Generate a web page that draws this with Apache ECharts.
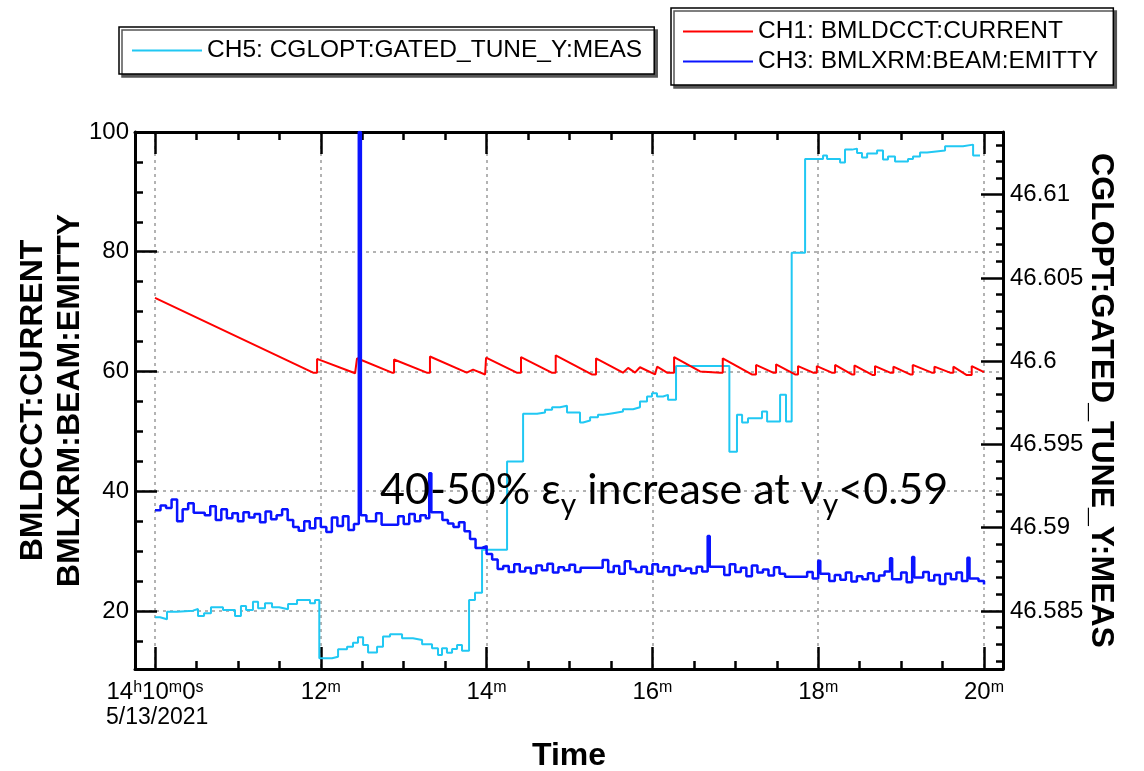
<!DOCTYPE html>
<html><head><meta charset="utf-8">
<script src="https://cdn.jsdelivr.net/npm/echarts@6/dist/echarts.min.js"></script>
<style>html,body{margin:0;padding:0;background:#fff}#c{width:1144px;height:771px}</style>
</head><body><div id="c"></div>
<script>
// ---- data (time in seconds after 14:10:00, 5/13/2021) ----
const seriesNames = ['CH5: CGLOPT:GATED_TUNE_Y:MEAS', 'CH1: BMLDCCT:CURRENT', 'CH3: BMLXRM:BEAM:EMITTY'];
const xTickHourLabel = ['14', 'h', '10', 'm', '0', 's'];
const dateLabel = '5/13/2021';

// CH1 current (left axis)
const redT = [0,114.4,117.3,117.3,144.8,146.2,146.2,171.5,173,173,196.7,199,199,225.6,230.2,238.9,239.6,239.6,261.8,264.9,264.9,287.1,290,290,316.1,319.2,319.2,338.7,342.4,347.4,351,361.9,363.4,370.6,375.7,375.7,394.5,409,410.9,410.9,431.9,435,435,447.3,449.5,449.5,463.2,465.4,465.4,476.3,479,479,489.8,492.2,492.2,504.3,506.2,506.2,519.5,521.1,521.1,532,534.4,534.4,546.5,548.4,548.4,562.2,564.1,564.1,575.4,577.8,577.8,587.5,591.1,591.1,600];
const redV = [72.3,59.8,59.8,62.1,59.7,59.7,62.2,59.8,59.8,62.0,59.8,59.8,62.5,59.8,60.3,59.5,59.5,62.3,59.8,59.8,62.4,59.8,59.8,62.7,59.5,59.5,62.2,59.8,60.6,59.8,60.7,59.5,60.8,59.8,59.8,62.4,60.0,59.8,59.8,62.2,59.5,59.5,61.1,59.8,59.8,61.2,59.5,59.5,60.9,59.8,59.8,60.9,59.8,59.8,61.1,59.5,59.5,61.0,59.4,59.4,60.9,59.8,59.8,60.8,59.5,59.5,61.1,59.8,59.8,60.8,59.8,59.8,60.8,59.4,59.4,60.9,59.9];

// CH3 emittance (left axis)
const blueT = [
 0,4,8,12,16,20,24,28,32,36,
 40,44,48,52,56,60,64,68,72,76,
 80,84,88,92,96,100,104,108,112,116,
 120,124,128,132,136,140,144,147.5,149,153,
 160,164,168,172,176,180,184,188,192,196,
 198.5,200,208,212,216,220,224,228,232,236,
 240,244,248,252,256,260,264,268,272,276,
 280,284,288,292,296,300,304,308,312,316,
 320,324,328,332,336,340,344,348,352,356,
 360,364,368,372,376,380,384,388,392,396,
 400,401.5,408,412,416,420,424,428,432,436,
 440,444,448,452,456,460,464,468,472,476,
 480,481.5,488,492,496,500,504,508,512,516,
 520,524,528,532,533.5,540,544,548,549.5,556,
 560,564,568,572,576,580,584,588,589.5,596,
 600];
const blueV = [
 36.8,37.6,37.2,38.6,35.0,37.0,38.0,36.4,36.4,36.0,
 37.5,35.2,37.0,35.5,36.3,35.0,36.5,35.6,36.2,34.8,
 36.6,35.3,36.0,37.0,35.2,34.0,33.4,35.0,33.8,35.5,
 34.0,33.2,35.6,34.2,35.8,33.5,34.5,100,36.0,35.0,
 36.3,34.4,34.4,34.4,35.8,34.5,36.2,35.0,36.0,35.5,
 43.0,36.5,35.2,34.6,34.0,34.8,33.3,32.0,30.5,30.8,
 29.5,28.6,27.0,27.5,26.5,27.8,26.6,27.2,26.3,27.6,
 26.8,27.9,26.4,27.3,26.8,27.7,26.5,27.2,27.2,27.2,
 27.2,28.5,26.5,27.5,26.2,28.3,27.0,26.5,27.4,26.2,
 27.8,26.6,27.3,26.0,27.5,26.7,27.1,26.3,27.4,26.6,
 32.5,27.4,27.4,26.0,27.8,26.5,27.2,25.8,27.6,26.4,
 26.9,25.9,27.3,26.2,25.7,25.7,25.7,25.7,26.5,25.4,
 28.4,26.2,25.0,26.0,25.2,26.4,24.9,25.8,25.3,26.3,
 25.0,25.9,26.6,28.8,25.3,26.4,24.8,29.0,25.6,26.5,
 25.1,26.0,24.5,26.2,25.3,26.4,25.0,28.9,25.4,25.0,
 24.4];

// CH5 gated tune (right axis), step values
const cyanT = [0,3.6,8.7,15.9,27.5,31.1,35.5,40.5,49.2,57.9,62.2,65.9,70.9,74.6,79.6,84.7,89.8,96.3,102.8,112.2,115.8,118.9,128.1,132.5,139.0,143.3,146.9,150.6,154.2,160.7,165.0,170.1,178.8,186.7,193.3,200.5,204.8,207.7,211.3,215.0,218.6,222.2,227.3,231.6,236.7,254.8,266.4,276.5,282.3,287.4,293.1,298.2,307.6,309.8,314.9,320.6,324.3,331.5,338.7,346.0,351.0,356.1,359.7,363.3,367.7,371.3,377.1,415.7,421.2,424.9,429.2,439.3,443.0,452.4,456.7,460.8,470.5,483.5,486.4,495.8,499.4,504.5,508.1,511.7,515.4,522.6,526.9,530.5,535.6,545.0,548.6,553.7,558.8,571.8,584.8,592.1,597.1];
const cyanV = [46.58462,46.58450,46.58496,46.58502,46.58512,46.58470,46.58486,46.58522,46.58506,46.58470,46.58530,46.58506,46.58556,46.58516,46.58546,46.58522,46.58510,46.58542,46.58566,46.58546,46.58566,46.58216,46.58225,46.58270,46.58285,46.58309,46.58342,46.58296,46.58250,46.58285,46.58346,46.58360,46.58336,46.58326,46.58300,46.58276,46.58236,46.58276,46.58249,46.58272,46.58296,46.58261,46.58566,46.58610,46.58867,46.59397,46.59684,46.59692,46.59708,46.59724,46.59732,46.59692,46.59632,46.59644,46.59664,46.59678,46.59688,46.59698,46.59712,46.59724,46.59758,46.59788,46.59808,46.59788,46.59798,46.59768,46.59972,46.59457,46.59678,46.59632,46.59658,46.59698,46.59638,46.59798,46.59638,46.60652,46.61215,46.61235,46.61215,46.61194,46.61271,46.61277,46.61251,46.61224,46.61247,46.61266,46.61211,46.61230,46.61200,46.61215,46.61230,46.61254,46.61265,46.61291,46.61301,46.61235,46.61235];

// axis ranges (x in minutes after 14:10:00)
const xRange = [-0.2413, 10.229];
const leftRange = [10.3, 100];
const rightRange = [46.581514, 46.613768];

// ---- chart ----
const SANS = "'Liberation Sans',Arial,sans-serif";
const CYAN = '#21c8f3', RED = '#ff0000', BLUE = '#0a14ff';
const toXY = (ts, vs) => ts.map((t, i) => [t / 60, vs[i]]);

const frameLine = {show: true, onZero: false, lineStyle: {color: '#000', width: 3}};
const tick = {show: true, inside: true, length: 22, lineStyle: {color: '#000', width: 2.5}};
const gridLine = {show: true, showMinLine: false, showMaxLine: false, lineStyle: {color: '#9a9a9a', width: 1.5, type: [3, 4]}};
const labelFont = {fontFamily: SANS, fontSize: 24, color: '#000'};

const chart = echarts.init(document.getElementById('c'));
chart.setOption({
  animation: false,
  backgroundColor: '#fff',
  grid: {left: 135, top: 132, width: 868, height: 537, outerBoundsMode: 'none', containLabel: false},
  legend: [
    {data: [seriesNames[0]], left: 119, top: 27, icon: 'rect', itemWidth: 70, itemHeight: 2,
     padding: [11, 12, 11, 13], backgroundColor: '#fff', borderColor: '#000', borderWidth: 1.5,
     shadowColor: '#555', shadowOffsetX: 3, shadowOffsetY: 3, shadowBlur: 0,
     textStyle: {fontFamily: SANS, fontSize: 24.5, color: '#000', lineHeight: 24}},
    {data: [seriesNames[1], seriesNames[2]], orient: 'vertical', left: 671, top: 8, icon: 'rect',
     itemWidth: 70, itemHeight: 2, itemGap: 5,
     padding: [11, 15, 11, 12], backgroundColor: '#fff', borderColor: '#000', borderWidth: 1.5,
     shadowColor: '#555', shadowOffsetX: 3, shadowOffsetY: 3, shadowBlur: 0,
     textStyle: {fontFamily: SANS, fontSize: 24.5, color: '#000', lineHeight: 23}}
  ],
  xAxis: [
    {type: 'value', position: 'bottom', min: xRange[0], max: xRange[1], splitNumber: 5,
     axisLine: frameLine, axisTick: tick,
     minorTick: {show: true, splitNumber: 4, length: 8, lineStyle: {color: '#000', width: 2.5}},
     splitLine: gridLine,
     axisLabel: Object.assign({}, labelFont, {
       margin: 11, showMinLabel: false, showMaxLabel: false, lineHeight: 24,
       formatter: v => {
         const m = Math.round(v);
         if (Math.abs(v - m) > 1e-6) return '';
         if (m === 0) return xTickHourLabel[0] + '{s|' + xTickHourLabel[1] + '}' + xTickHourLabel[2] + '{s|' + xTickHourLabel[3] + '}' + xTickHourLabel[4] + '{s|' + xTickHourLabel[5] + '}';
         return (10 + m) + '{s|m}';
       },
       rich: {s: {fontFamily: SANS, fontSize: 16, lineHeight: 16, verticalAlign: 'top', color: '#000'}}
     }),
     name: 'Time', nameLocation: 'middle', nameGap: 71, nameMoveOverlap: false,
     nameTextStyle: {fontFamily: SANS, fontWeight: 'bold', fontSize: 32, color: '#000'}},
    {type: 'value', position: 'top', min: xRange[0], max: xRange[1], splitNumber: 5,
     axisLine: frameLine, axisTick: tick,
     minorTick: {show: true, splitNumber: 4, length: 8, lineStyle: {color: '#000', width: 2.5}},
     splitLine: {show: false}, axisLabel: {show: false}}
  ],
  yAxis: [
    {type: 'value', position: 'left', min: leftRange[0], max: leftRange[1], splitNumber: 4,
     axisLine: frameLine, axisTick: tick,
     minorTick: {show: true, splitNumber: 4, length: 8, lineStyle: {color: '#000', width: 2.5}},
     splitLine: gridLine,
     axisLabel: Object.assign({}, labelFont, {margin: 6, showMinLabel: false}),
     name: 'BMLDCCT:CURRENT\nBMLXRM:BEAM:EMITTY', nameLocation: 'middle', nameRotate: 90, nameGap: 46, nameMoveOverlap: false,
     nameTextStyle: {fontFamily: SANS, fontWeight: 'bold', fontSize: 32, lineHeight: 37, color: '#000'}},
    {type: 'value', position: 'right', min: rightRange[0], max: rightRange[1], splitNumber: 6,
     axisLine: frameLine, axisTick: tick,
     minorTick: {show: true, splitNumber: 5, length: 7, lineStyle: {color: '#000', width: 2.5}},
     splitLine: {show: false},
     axisLabel: Object.assign({}, labelFont, {margin: 7, showMinLabel: false, showMaxLabel: false,
       formatter: v => String(+v.toFixed(3))}),
     name: 'CGLOPT:GATED_TUNE_Y:MEAS', nameLocation: 'middle', nameRotate: -90, nameGap: 82, nameMoveOverlap: false,
     nameTextStyle: {fontFamily: SANS, fontWeight: 'bold', fontSize: 32, color: '#000'}}
  ],
  series: [
    {name: seriesNames[0], type: 'line', xAxisIndex: 0, yAxisIndex: 1, step: 'end', showSymbol: false,
     data: toXY(cyanT, cyanV), lineStyle: {color: CYAN, width: 2}, itemStyle: {color: CYAN}, z: 2},
    {name: seriesNames[1], type: 'line', xAxisIndex: 0, yAxisIndex: 0, showSymbol: false,
     data: toXY(redT, redV), lineStyle: {color: RED, width: 2}, itemStyle: {color: RED}, z: 3},
    {name: seriesNames[2], type: 'line', xAxisIndex: 0, yAxisIndex: 0, step: 'end', showSymbol: false,
     data: toXY(blueT, blueV), lineStyle: {color: BLUE, width: 2.5}, itemStyle: {color: BLUE}, z: 4}
  ],
  graphic: [
    {type: 'text', left: 106, top: 706, z: 10,
     style: {text: dateLabel, fontFamily: SANS, fontSize: 23, fill: '#000'}},
    {type: 'text', left: 380, top: 460, z: 10,
     style: {text: '40-50% ε{sub|y} increase at ν{sub|y}<0.59', fontFamily: 'Lato', fontSize: 43, lineHeight: 60, fill: '#000',
       rich: {sub: {fontFamily: 'Lato', fontSize: 30, lineHeight: 28, verticalAlign: 'bottom', fill: '#000'}}}}
  ]
});
</script></body></html>
